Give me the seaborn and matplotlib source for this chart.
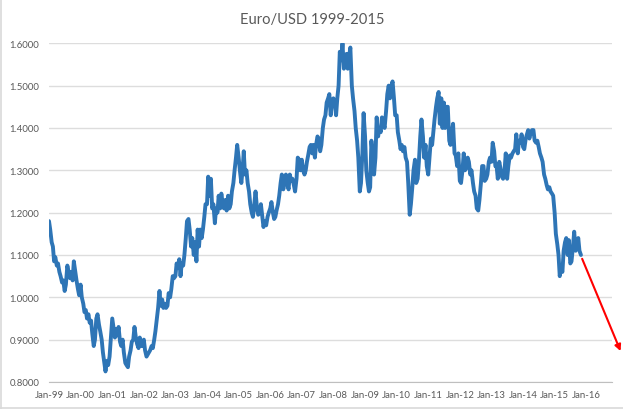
#!/usr/bin/env python3
"""
Euro/USD 1999-2015 line chart with a red forecast arrow.
"""

import matplotlib.dates as mdates
import matplotlib.pyplot as plt
import pandas as pd
import seaborn as sns
from matplotlib.lines import Line2D

# Half-monthly readings
RATE_1999 = [1.18, 1.16, 1.13, 1.12, 1.085, 1.095, 1.075, 1.08, 1.06, 1.05, 1.035, 1.04,
             1.015, 1.03, 1.075, 1.06, 1.045, 1.06, 1.04, 1.085, 1.06, 1.04, 1.02, 1.005]
RATE_2000 = [1.03, 1.00, 0.985, 0.965, 0.97, 0.95, 0.96, 0.94, 0.945, 0.915, 0.885, 0.90,
             0.95, 0.96, 0.935, 0.92, 0.90, 0.87, 0.845, 0.825, 0.85, 0.84, 0.86, 0.90]
RATE_2001 = [0.95, 0.93, 0.905, 0.925, 0.91, 0.93, 0.895, 0.885, 0.90, 0.87, 0.845, 0.84,
             0.835, 0.86, 0.875, 0.895, 0.90, 0.93, 0.905, 0.89, 0.88, 0.905, 0.885, 0.885]
RATE_2002 = [0.90, 0.875, 0.86, 0.865, 0.87, 0.875, 0.885, 0.88, 0.90, 0.92, 0.95, 0.975,
             1.015, 0.98, 0.995, 0.975, 0.985, 0.975, 0.98, 1.01, 1.00, 1.02, 1.05, 1.045]
RATE_2003 = [1.05, 1.08, 1.07, 1.09, 1.05, 1.08, 1.075, 1.10, 1.14, 1.18, 1.185, 1.16,
             1.12, 1.14, 1.10, 1.13, 1.085, 1.16, 1.12, 1.16, 1.14, 1.16, 1.19, 1.22]
RATE_2004 = [1.22, 1.285, 1.24, 1.28, 1.21, 1.22, 1.175, 1.21, 1.20, 1.24, 1.21, 1.245,
             1.22, 1.21, 1.23, 1.205, 1.24, 1.21, 1.22, 1.25, 1.27, 1.30, 1.33, 1.36]
RATE_2005 = [1.33, 1.30, 1.27, 1.30, 1.345, 1.29, 1.30, 1.27, 1.25, 1.22, 1.20, 1.19,
             1.22, 1.25, 1.21, 1.195, 1.20, 1.22, 1.19, 1.166, 1.18, 1.17, 1.19, 1.20]
RATE_2006 = [1.21, 1.225, 1.20, 1.185, 1.19, 1.205, 1.22, 1.24, 1.27, 1.29, 1.255, 1.27,
             1.29, 1.27, 1.255, 1.29, 1.275, 1.28, 1.265, 1.25, 1.28, 1.33, 1.325, 1.30]
RATE_2007 = [1.325, 1.30, 1.29, 1.30, 1.32, 1.335, 1.355, 1.36, 1.34, 1.36, 1.33, 1.36,
             1.38, 1.375, 1.345, 1.36, 1.40, 1.42, 1.43, 1.46, 1.47, 1.48, 1.43, 1.465]
RATE_2008 = [1.47, 1.46, 1.43, 1.47, 1.50, 1.58, 1.56, 1.60, 1.54, 1.545, 1.575, 1.54,
             1.57, 1.59, 1.50, 1.47, 1.44, 1.40, 1.37, 1.33, 1.25, 1.27, 1.34, 1.435]
RATE_2009 = [1.38, 1.30, 1.27, 1.25, 1.26, 1.37, 1.33, 1.29, 1.33, 1.425, 1.38, 1.40,
             1.39, 1.425, 1.41, 1.40, 1.44, 1.48, 1.50, 1.47, 1.50, 1.51, 1.47, 1.43]
RATE_2010 = [1.43, 1.39, 1.37, 1.35, 1.36, 1.345, 1.355, 1.33, 1.32, 1.27, 1.195, 1.22,
             1.26, 1.30, 1.325, 1.27, 1.28, 1.32, 1.38, 1.42, 1.38, 1.33, 1.36, 1.31]
RATE_2011 = [1.29, 1.33, 1.375, 1.36, 1.39, 1.42, 1.45, 1.47, 1.485, 1.41, 1.47, 1.40,
             1.46, 1.40, 1.45, 1.45, 1.37, 1.36, 1.39, 1.41, 1.34, 1.335, 1.31, 1.34]
RATE_2012 = [1.275, 1.27, 1.30, 1.34, 1.30, 1.305, 1.33, 1.32, 1.29, 1.30, 1.27, 1.25,
             1.24, 1.21, 1.205, 1.23, 1.27, 1.31, 1.31, 1.275, 1.28, 1.29, 1.32, 1.33]
RATE_2013 = [1.32, 1.365, 1.345, 1.31, 1.31, 1.28, 1.32, 1.305, 1.285, 1.28, 1.30, 1.34,
             1.28, 1.31, 1.335, 1.33, 1.34, 1.345, 1.35, 1.385, 1.34, 1.37, 1.365, 1.385]
RATE_2014 = [1.355, 1.35, 1.375, 1.385, 1.395, 1.375, 1.39, 1.395, 1.395, 1.37, 1.365, 1.37,
             1.355, 1.34, 1.33, 1.32, 1.29, 1.28, 1.265, 1.255, 1.26, 1.25, 1.245, 1.24]
RATE_2015 = [1.20, 1.15, 1.125, 1.10, 1.05, 1.07, 1.06, 1.11, 1.13, 1.14, 1.10, 1.135,
             1.08, 1.085, 1.12, 1.155, 1.11, 1.125, 1.14, 1.11, 1.10]

ARROW_DATES = ["2015-11-15", "2017-02-01"]
ARROW_VALUES = [1.091, 0.873]
Y_TICKS = [0.8, 0.9, 1.0, 1.1, 1.2, 1.3, 1.4, 1.5, 1.6]

values = (RATE_1999 + RATE_2000 + RATE_2001 + RATE_2002 + RATE_2003 + RATE_2004
          + RATE_2005 + RATE_2006 + RATE_2007 + RATE_2008 + RATE_2009 + RATE_2010
          + RATE_2011 + RATE_2012 + RATE_2013 + RATE_2014 + RATE_2015)
dates = pd.date_range("1999-01-01", periods=len(values), freq="SMS")
df = pd.DataFrame({"date": dates, "rate": values})

sns.set_theme(style="white")
plt.rcParams["font.family"] = ["Lato", "DejaVu Sans"]

fig = plt.figure(figsize=(6.23, 4.10), dpi=100)
ax = fig.add_axes([49 / 623, 27 / 410, 563 / 623, 338.7 / 410])

sns.lineplot(data=df, x="date", y="rate", ax=ax, color="#2E75B6", linewidth=2.8, errorbar=None)

ax.set_xlim(pd.Timestamp("1999-01-01"), pd.Timestamp("2016-10-25"))
ax.set_ylim(0.8, 1.6)
ax.set_yticks(Y_TICKS)
ax.yaxis.set_major_formatter(lambda v, pos: f"{v:.4f}")
ax.xaxis.set_major_locator(mdates.YearLocator())
ax.xaxis.set_major_formatter(mdates.DateFormatter("%b-%y"))

ax.grid(axis="y", color="#DDDDDD", linewidth=1.0)
ax.set_axisbelow(True)
for side in ["left", "right", "top"]:
    ax.spines[side].set_visible(False)
ax.spines["bottom"].set_color("#BFBFBF")
ax.spines["bottom"].set_linewidth(0.8)

ax.tick_params(axis="x", length=3, width=0.7, color="#BFBFBF", labelsize=6.9, labelcolor="#595959", pad=3)
ax.tick_params(axis="y", length=0, labelsize=6.9, labelcolor="#595959", pad=7)
ax.set_xlabel("")
ax.set_ylabel("")

fig.text(312 / 623, 1 - 20 / 410, "Euro/USD 1999-2015", ha="center", va="center",
         fontsize=10.6, color="#595959")

# Forecast arrow runs past the plot area
ax.annotate("", xy=(pd.Timestamp(ARROW_DATES[1]), ARROW_VALUES[1]),
            xytext=(pd.Timestamp(ARROW_DATES[0]), ARROW_VALUES[0]),
            annotation_clip=False,
            arrowprops=dict(arrowstyle="-|>", color="#FF0000", linewidth=1.5,
                            mutation_scale=9, shrinkA=0, shrinkB=0))

# Thin grey frame left over from the screenshot
frame = "#D9D9D9"
fig.add_artist(Line2D([0, 1], [0.999, 0.999], color=frame, linewidth=1.2))
fig.add_artist(Line2D([0.002, 0.002], [0, 1], color=frame, linewidth=1.2))
fig.add_artist(Line2D([0, 1], [0.002, 0.002], color=frame, linewidth=1.2))

fig.savefig("out.png", dpi=100)
plt.close(fig)
